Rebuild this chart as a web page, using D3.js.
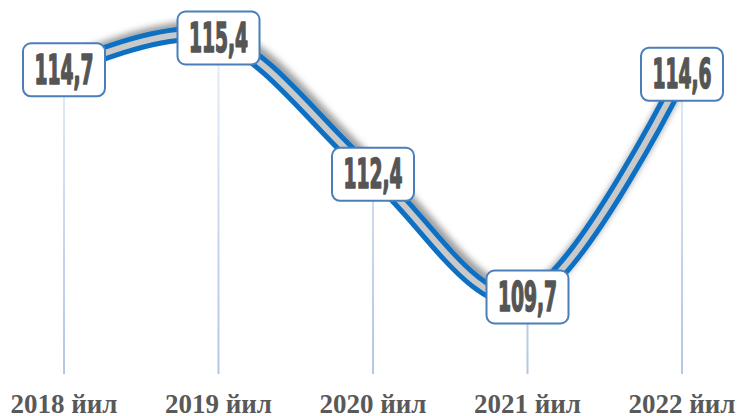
<!DOCTYPE html>
<html>
<head>
<meta charset="utf-8">
<script src="https://cdn.jsdelivr.net/npm/d3@7"></script>
<style>
  html, body { margin: 0; padding: 0; background: #ffffff; }
  svg { display: block; }
</style>
</head>
<body>
<svg id="chart" width="739" height="416"></svg>
<script>
// Annual index values, %
const years = ["2018", "2019", "2020", "2021", "2022"];
const values = [114.7, 115.4, 112.4, 109.7, 114.6];
const yearSuffix = " йил";

const svg = d3.select("#chart");

const x = d3.scalePoint().domain(years).range([64, 682]);
const y = d3.scaleLinear().domain([109.7, 115.4]).range([297, 38]);
const baseY = 374;

const defs = svg.append("defs");

// soft shadow behind the curve
const shadow = defs.append("filter").attr("id", "lineShadow")
  .attr("x", "-10%").attr("y", "-20%").attr("width", "120%").attr("height", "140%");
shadow.append("feDropShadow")
  .attr("dx", 3).attr("dy", -5).attr("stdDeviation", 3.2)
  .attr("flood-color", "#000").attr("flood-opacity", 0.38);

// drop line fill: light at the top, stronger near the base
const dropGrad = defs.append("linearGradient").attr("id", "dropGrad")
  .attr("gradientUnits", "userSpaceOnUse")
  .attr("x1", 0).attr("y1", 0).attr("x2", 0).attr("y2", baseY);
dropGrad.append("stop").attr("offset", "0%").attr("stop-color", "#eef2f9");
dropGrad.append("stop").attr("offset", "100%").attr("stop-color", "#b3c6e4");

const data = years.map((yr, i) => ({ year: yr, value: values[i] }));

// vertical drop lines
svg.append("g").selectAll("rect").data(data).join("rect")
  .attr("x", d => x(d.year) - 1)
  .attr("y", d => y(d.value))
  .attr("width", 2)
  .attr("height", d => baseY - y(d.value))
  .attr("fill", "url(#dropGrad)");

// smoothed curve: blue band with grey core
const line = d3.line()
  .x(d => x(d.year))
  .y(d => y(d.value))
  .curve(d3.curveCardinal.tension(0));

const curve = svg.append("g");
curve.append("path").datum(data)
  .attr("d", line)
  .attr("fill", "none")
  .attr("stroke", "#0a6fc2")
  .attr("stroke-width", 16)
  .attr("stroke-linejoin", "round")
  .attr("filter", "url(#lineShadow)");
curve.append("path").datum(data)
  .attr("d", line)
  .attr("fill", "none")
  .attr("stroke", "#c9c9c9")
  .attr("stroke-width", 6);

// value callouts
const boxW = 82, boxH = 53;
const labels = svg.append("g").selectAll("g").data(data).join("g")
  .attr("transform", d => `translate(${x(d.year)},${y(d.value)})`);
labels.append("rect")
  .attr("x", -boxW / 2).attr("y", -boxH / 2)
  .attr("width", boxW).attr("height", boxH)
  .attr("rx", 8).attr("ry", 8)
  .attr("fill", "#ffffff")
  .attr("stroke", "#4a7ebb")
  .attr("stroke-width", 2);
labels.append("text")
  .attr("transform", "translate(0,14) scale(0.52,1)")
  .attr("text-anchor", "middle")
  .attr("font-family", "'DejaVu Sans', sans-serif")
  .attr("font-stretch", "condensed")
  .attr("font-weight", "bold")
  .attr("font-size", 40)
  .attr("fill", "#555555")
  .attr("stroke", "#555555")
  .attr("stroke-width", 1.6)
  .attr("stroke-linejoin", "round")
  .text(d => d3.format(".1f")(d.value).replace(".", ","));

// category labels
svg.append("g").selectAll("text").data(years).join("text")
  .attr("x", d => x(d))
  .attr("y", 413)
  .attr("text-anchor", "middle")
  .attr("font-family", "'Liberation Serif', 'Times New Roman', serif")
  .attr("font-weight", "bold")
  .attr("font-size", 27)
  .attr("fill", "#595959")
  .text(d => d + yearSuffix);
</script>
</body>
</html>
